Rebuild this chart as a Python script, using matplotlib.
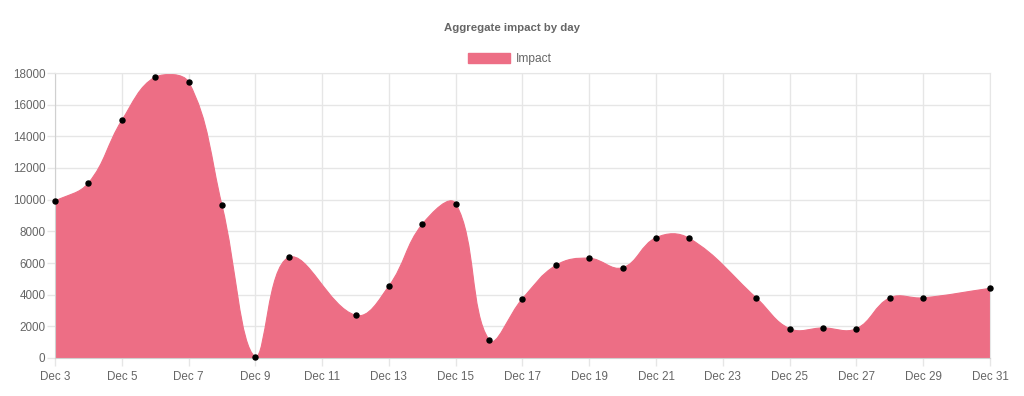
import numpy as np
import pandas as pd
import matplotlib
matplotlib.use("Agg")
from matplotlib import pyplot as plt
from matplotlib import dates as mdates
from matplotlib.path import Path
from matplotlib.patches import PathPatch, Patch
from matplotlib.ticker import FuncFormatter

plt.rcParams['font.family'] = ['Liberation Sans', 'DejaVu Sans']

days = ["2019-12-03", "2019-12-04", "2019-12-05", "2019-12-06", "2019-12-07",
        "2019-12-08", "2019-12-09", "2019-12-10", "2019-12-12", "2019-12-13",
        "2019-12-14", "2019-12-15", "2019-12-16", "2019-12-17", "2019-12-18",
        "2019-12-19", "2019-12-20", "2019-12-21", "2019-12-22", "2019-12-24",
        "2019-12-25", "2019-12-26", "2019-12-27", "2019-12-28", "2019-12-29",
        "2019-12-31"]
impact = [9900, 11050, 15000, 17750, 17450, 9650, 50, 6350, 2700, 4550,
          8450, 9750, 1150, 3750, 5850, 6300, 5700, 7600, 7550, 3800,
          1850, 1900, 1850, 3800, 3800, 4400]

FILL = "#ed6e85"
GRID = "#e6e6e6"
TXT = "#666666"

fig = plt.figure(figsize=(10.24, 3.96), dpi=100)
W, H = 1024, 396
L, R, T, B = 55, 990, 73, 358
ax = fig.add_axes([L / W, 1 - B / H, (R - L) / W, (B - T) / H])

x = mdates.date2num(pd.to_datetime(days))
y = np.array(impact, dtype=float)
ax.set_xlim(x[0], x[-1])
ax.set_ylim(0, 18000)

# chart.js style spline (tension 0.4), computed in pixel space
pts = ax.transData.transform(np.column_stack([x, y]))
bb = ax.bbox
t = 0.4
ctrl_prev, ctrl_next = [], []
n = len(pts)
for i in range(n):
    p = pts[max(i - 1, 0)]
    c = pts[i]
    nx = pts[min(i + 1, n - 1)]
    d01 = np.hypot(*(c - p))
    d12 = np.hypot(*(nx - c))
    s = d01 + d12
    s01 = d01 / s if s else 0
    s12 = d12 / s if s else 0
    cp = c - t * s01 * (nx - p)
    cn = c + t * s12 * (nx - p)
    for q in (cp, cn):
        q[0] = min(max(q[0], bb.x0), bb.x1)
        q[1] = min(max(q[1], bb.y0), bb.y1)
    ctrl_prev.append(cp)
    ctrl_next.append(cn)

verts = [pts[0]]
codes = [Path.MOVETO]
for i in range(n - 1):
    verts += [ctrl_next[i], ctrl_prev[i + 1], pts[i + 1]]
    codes += [Path.CURVE4] * 3
inv = ax.transData.inverted()
curve = inv.transform(np.array(verts))
base = np.array([[x[-1], 0], [x[0], 0], [x[0], y[0]]])
allv = np.vstack([curve, base])
allc = codes + [Path.LINETO, Path.LINETO, Path.CLOSEPOLY]
ax.add_patch(PathPatch(Path(allv, allc), facecolor=FILL, edgecolor=FILL,
                       linewidth=0.8, zorder=2))

ax.plot(x, y, 'o', color='black', markersize=3.6, zorder=4, clip_on=False)

ticks = mdates.date2num(pd.date_range("2019-12-03", "2019-12-31", freq="2D"))
ax.set_xticks(ticks)
ax.xaxis.set_major_formatter(FuncFormatter(
    lambda v, pos: "Dec %d" % mdates.num2date(v).day))
ax.set_yticks(np.arange(0, 18001, 2000))
ax.grid(True, color=GRID, linewidth=1, zorder=0)
ax.set_axisbelow(True)
for s in ax.spines.values():
    s.set_color(GRID)
ax.spines['left'].set_color("#d0d0d0")
ax.spines['bottom'].set_color("#d0d0d0")
ax.tick_params(axis='both', colors=GRID, labelcolor=TXT, labelsize=8.4,
               length=6, width=1)
ax.tick_params(axis='x', pad=3)
ax.tick_params(axis='y', pad=1)

fig.text(0.5, 1 - 28 / H, "Aggregate impact by day", ha='center', va='center',
         fontsize=8.2, fontweight='bold', color=TXT)
fig.legend(handles=[Patch(facecolor=FILL, edgecolor=FILL, label="Impact")],
           loc='center', bbox_to_anchor=(510 / W, 1 - 59 / H), frameon=False,
           fontsize=8.6, handlelength=3.5, handleheight=1.0, handletextpad=0.45,
           labelcolor=TXT)

fig.savefig("out.png", dpi=100)
